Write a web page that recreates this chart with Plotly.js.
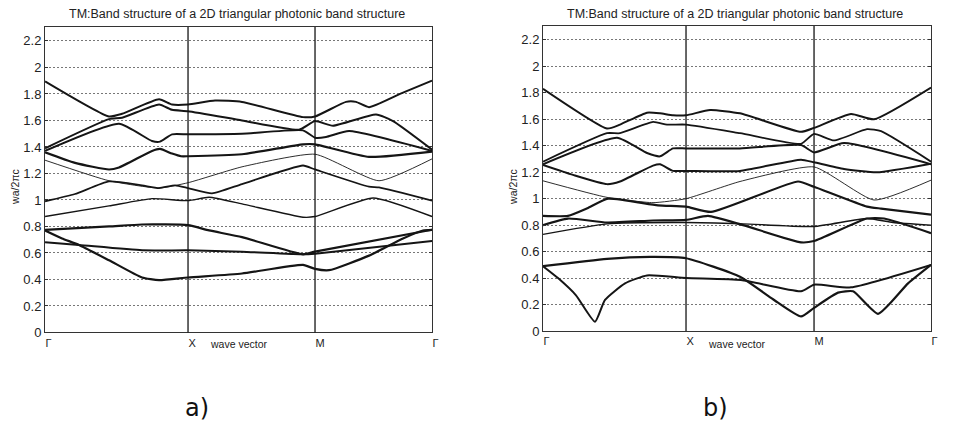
<!DOCTYPE html>
<html><head><meta charset="utf-8">
<script src="https://cdn.plot.ly/plotly-3.0.1.min.js"></script>
<style>html,body{margin:0;padding:0;background:#fff}#chart{width:956px;height:422px}</style>
</head><body><div id="chart"></div><script>
// ---- data ----
const symLabels = ['Γ', 'X', 'M', 'Γ'];
const kSymA = [0, 143, 270, 387];
const kSymB = [0, 143, 271, 388];
const yTicks = [0, 0.2, 0.4, 0.6, 0.8, 1, 1.2, 1.4, 1.6, 1.8, 2, 2.2];
const yTickText = ['0', '0.2', '0.4', '0.6', '0.8', '1', '1.2', '1.4', '1.6', '1.8', '2', '2.2'];
const titleText = 'TM:Band structure of a 2D triangular photonic band structure';
const xLabel = 'wave vector';
const yLabel = 'wa/2πc';
const panelLabels = ['a)', 'b)'];

// panel a bands (k along path, w = ωa/2πc)
const a1k = [0, 17, 34, 64, 97, 114, 143, 197, 258, 270, 284, 324, 358, 378, 387];
const a1w = [0.77, 0.71, 0.66, 0.545, 0.415, 0.395, 0.415, 0.445, 0.51, 0.48, 0.47, 0.58, 0.71, 0.77, 0.775];
const a2k = [0, 34, 97, 143, 197, 258, 270, 387];
const a2w = [0.68, 0.66, 0.62, 0.62, 0.61, 0.59, 0.595, 0.69];
const a3k = [0, 64, 97, 143, 164, 197, 258, 270, 387];
const a3w = [0.775, 0.80, 0.815, 0.81, 0.77, 0.72, 0.59, 0.61, 0.775];
const a4k = [0, 64, 107, 143, 164, 197, 258, 270, 328, 387];
const a4w = [0.875, 0.955, 1.01, 0.995, 1.02, 0.97, 0.87, 0.875, 1.015, 0.875];
const a5k = [0, 30, 64, 97, 114, 130, 143, 167, 197, 258, 270, 324, 334, 387];
const a5w = [0.99, 1.045, 1.14, 1.11, 1.09, 1.11, 1.09, 1.05, 1.12, 1.26, 1.23, 1.10, 1.095, 0.995];
const a6k = [0, 64, 114, 143, 197, 270, 334, 387];
const a6w = [1.30, 1.145, 1.09, 1.13, 1.25, 1.345, 1.145, 1.31];
const a7k = [0, 30, 64, 74, 107, 115, 127, 136, 143, 197, 258, 270, 324, 387];
const a7w = [1.36, 1.28, 1.23, 1.245, 1.37, 1.385, 1.35, 1.33, 1.33, 1.345, 1.42, 1.42, 1.325, 1.365];
const a8k = [0, 74, 107, 115, 127, 143, 197, 258, 270, 281, 304, 387];
const a8w = [1.37, 1.575, 1.445, 1.44, 1.495, 1.495, 1.50, 1.525, 1.47, 1.475, 1.52, 1.37];
const a9k = [0, 64, 77, 114, 127, 143, 197, 254, 270, 288, 331, 348, 387];
const a9w = [1.39, 1.61, 1.62, 1.72, 1.68, 1.67, 1.60, 1.53, 1.595, 1.56, 1.645, 1.595, 1.38];
const a10k = [0, 64, 77, 114, 127, 143, 170, 197, 258, 270, 301, 311, 324, 355, 387];
const a10w = [1.895, 1.63, 1.65, 1.76, 1.72, 1.72, 1.75, 1.74, 1.625, 1.63, 1.74, 1.74, 1.70, 1.80, 1.90];

// panel b bands
const b1k = [0, 15, 33, 52, 62, 82, 104, 143, 198, 258, 271, 308, 388];
const b1w = [0.49, 0.40, 0.27, 0.07, 0.235, 0.36, 0.42, 0.40, 0.385, 0.30, 0.35, 0.33, 0.50];
const b2k = [0, 64, 107, 143, 197, 230, 258, 271, 295, 310, 335, 365, 388];
const b2w = [0.49, 0.545, 0.56, 0.55, 0.41, 0.24, 0.11, 0.175, 0.29, 0.30, 0.13, 0.36, 0.50];
const b3k = [0, 64, 143, 200, 271, 324, 350, 388];
const b3w = [0.73, 0.81, 0.82, 0.81, 0.79, 0.85, 0.82, 0.80];
const b4k = [0, 25, 64, 110, 143, 165, 200, 258, 271, 324, 341, 388];
const b4w = [0.80, 0.85, 0.82, 0.835, 0.84, 0.87, 0.80, 0.67, 0.68, 0.85, 0.85, 0.74];
const b5k = [0, 25, 45, 65, 115, 143, 168, 255, 271, 324, 338, 388];
const b5w = [0.87, 0.87, 0.93, 1.0, 0.95, 0.94, 0.90, 1.13, 1.09, 0.94, 0.925, 0.88];
const b6k = [0, 64, 110, 143, 197, 271, 331, 388];
const b6w = [1.135, 1.01, 0.97, 1.0, 1.13, 1.24, 0.99, 1.14];
const b7k = [0, 30, 64, 77, 110, 117, 130, 143, 197, 258, 271, 301, 334, 388];
const b7w = [1.255, 1.18, 1.11, 1.13, 1.25, 1.26, 1.21, 1.21, 1.21, 1.295, 1.275, 1.225, 1.20, 1.265];
const b8k = [0, 74, 104, 117, 130, 143, 197, 258, 271, 301, 388];
const b8w = [1.26, 1.46, 1.345, 1.32, 1.38, 1.38, 1.38, 1.405, 1.35, 1.42, 1.26];
const b9k = [0, 64, 77, 110, 124, 143, 197, 258, 271, 291, 324, 338, 388];
const b9w = [1.28, 1.495, 1.495, 1.58, 1.56, 1.56, 1.495, 1.415, 1.49, 1.44, 1.525, 1.51, 1.28];
const b10k = [0, 64, 77, 104, 117, 130, 143, 167, 197, 258, 271, 308, 331, 388];
const b10w = [1.83, 1.53, 1.56, 1.65, 1.645, 1.63, 1.63, 1.67, 1.645, 1.505, 1.535, 1.64, 1.60, 1.84];

// ---- styles ----
const bandsA = [[a1k, a1w], [a2k, a2w], [a3k, a3w], [a4k, a4w], [a5k, a5w], [a6k, a6w], [a7k, a7w], [a8k, a8w], [a9k, a9w], [a10k, a10w]];
const bandsB = [[b1k, b1w], [b2k, b2w], [b3k, b3w], [b4k, b4w], [b5k, b5w], [b6k, b6w], [b7k, b7w], [b8k, b8w], [b9k, b9w], [b10k, b10w]];
const widthsA = [2.2, 2.0, 2.2, 1.4, 1.8, 0.9, 2.2, 2.0, 2.0, 2.0];
const widthsB = [2.0, 2.2, 1.4, 2.2, 2.2, 0.9, 2.0, 2.0, 1.8, 2.0];

const traces = [];
function addBands(bands, widths, xa, ya) {
  bands.forEach((b, i) => {
    traces.push({
      x: b[0], y: b[1], xaxis: xa, yaxis: ya, type: 'scatter', mode: 'lines',
      line: {color: '#151515', width: widths[i], shape: 'spline', smoothing: 0.5},
      hoverinfo: 'skip', showlegend: false
    });
  });
}
addBands(bandsA, widthsA, 'x', 'y');
addBands(bandsB, widthsB, 'x2', 'y2');

const font = 'Liberation Sans, Arial, sans-serif';
function xAxis(dom, ks) {
  return {
    domain: dom, range: [ks[0], ks[3]], tickvals: ks, ticktext: symLabels,
    ticklabelposition: 'outside right',
    showgrid: false, zeroline: false, showline: true, mirror: true, linecolor: '#333', linewidth: 1,
    ticks: '', tickfont: {family: font, size: 11, color: '#222'}, fixedrange: true
  };
}
function yAxis(dom) {
  return {
    domain: dom, range: [0, 2.305], tickvals: yTicks, ticktext: yTickText,
    showgrid: true, gridcolor: '#777', griddash: '1.5px,2.5px', gridwidth: 1,
    zeroline: false, showline: true, mirror: 'ticks', linecolor: '#333', linewidth: 1,
    ticks: 'inside', ticklen: 3, tickcolor: '#333',
    tickfont: {family: font, size: 13, color: '#222'}, fixedrange: true
  };
}

const domXA = [0.0471, 0.4519], domYA = [0.2121, 0.936];
const domXB = [0.568, 0.9739], domYB = [0.2156, 0.9384];

const shapes = [];
[[kSymA, 'x', 'y'], [kSymB, 'x2', 'y2']].forEach(([ks, xr, yr]) => {
  [ks[1], ks[2]].forEach(k => shapes.push({
    type: 'line', xref: xr, yref: yr + ' domain', x0: k, x1: k, y0: 0, y1: 1,
    line: {color: '#151515', width: 1.3}
  }));
});

const mid = d => (d[0] + d[1]) / 2;
const annotations = [];
[[domXA, domYA, 0.0157, 0.206], [domXB, domYB, 0.5366, 0.748]].forEach(([dx, dy, ylx, plx], i) => {
  annotations.push({text: titleText, xref: 'paper', yref: 'paper', x: mid(dx) - 0.002, y: 0.967,
    xanchor: 'center', yanchor: 'middle', showarrow: false, font: {family: font, size: 12.5, color: '#222'}});
  annotations.push({text: xLabel, xref: 'paper', yref: 'paper', x: mid(dx), y: 0.185,
    xanchor: 'center', yanchor: 'middle', showarrow: false, font: {family: font, size: 10.5, color: '#222'}});
  annotations.push({text: yLabel, xref: 'paper', yref: 'paper', x: ylx, y: 0.557, textangle: -90,
    xanchor: 'center', yanchor: 'middle', showarrow: false, font: {family: font, size: 10.5, color: '#222'}});
  annotations.push({text: panelLabels[i], xref: 'paper', yref: 'paper', x: plx, y: 0.033,
    xanchor: 'center', yanchor: 'middle', showarrow: false, font: {family: 'DejaVu Sans, sans-serif', size: 24, color: '#111'}});
});

const layout = {
  width: 956, height: 422, margin: {l: 0, r: 0, t: 0, b: 0},
  paper_bgcolor: '#fff', plot_bgcolor: '#fff', showlegend: false,
  xaxis: xAxis(domXA, kSymA), yaxis: yAxis(domYA),
  xaxis2: Object.assign(xAxis(domXB, kSymB), {anchor: 'y2'}), yaxis2: Object.assign(yAxis(domYB), {anchor: 'x2'}),
  shapes: shapes, annotations: annotations
};
layout.xaxis.anchor = 'y';
layout.yaxis.anchor = 'x';

Plotly.newPlot('chart', traces, layout, {staticPlot: true, displayModeBar: false});
</script></body></html>
